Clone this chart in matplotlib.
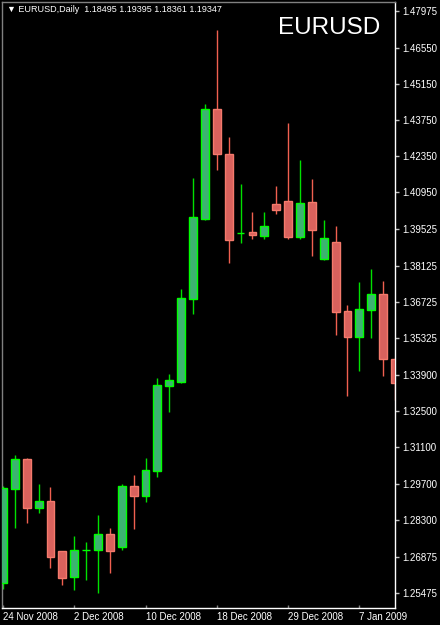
import matplotlib
matplotlib.use("Agg")
import matplotlib.pyplot as plt
import numpy as np

plt.rcParams['font.family'] = ['Liberation Sans', 'DejaVu Sans']

# EURUSD daily bars, 24 Nov 2008 .. 8 Jan 2009
opens = [1.2586, 1.2950, 1.3065, 1.2876, 1.2903, 1.2710, 1.2610, 1.2713, 1.2714, 1.2776,
         1.2726, 1.2961, 1.2923, 1.3019, 1.3347, 1.3363, 1.3684, 1.3993, 1.4418, 1.4244,
         1.3937, 1.3942, 1.3925, 1.4052, 1.4062, 1.3923, 1.4058, 1.3838, 1.3904, 1.3637,
         1.3537, 1.3641, 1.3703, 1.3450]
highs = [1.2961, 1.3081, 1.3069, 1.2969, 1.2957, 1.2712, 1.2768, 1.2745, 1.2849, 1.2799,
         1.2969, 1.3004, 1.3069, 1.3380, 1.3392, 1.3722, 1.4151, 1.4437, 1.4723, 1.4309,
         1.4128, 1.4020, 1.4020, 1.4120, 1.4363, 1.4221, 1.4147, 1.3989, 1.3966, 1.3660,
         1.3749, 1.3799, 1.3753, 1.3455]
lows = [1.2563, 1.2799, 1.2818, 1.2857, 1.2644, 1.2579, 1.2559, 1.2598, 1.2548, 1.2625,
        1.2714, 1.2795, 1.2899, 1.2996, 1.3247, 1.3360, 1.3626, 1.3989, 1.4182, 1.3823,
        1.3900, 1.3915, 1.3915, 1.4012, 1.3915, 1.3915, 1.3850, 1.3835, 1.3545, 1.3309,
        1.3407, 1.3533, 1.3388, 1.3293]
closes = [1.2953, 1.3065, 1.2876, 1.2903, 1.2687, 1.2606, 1.2714, 1.2714, 1.2776, 1.2710,
          1.2961, 1.2923, 1.3023, 1.3351, 1.3371, 1.3687, 1.4000, 1.4418, 1.4244, 1.3911,
          1.3939, 1.3931, 1.3966, 1.4027, 1.3923, 1.4054, 1.3950, 1.3919, 1.3633, 1.3537,
          1.3645, 1.3703, 1.3450, 1.3359]

date_pos = [0, 6, 12, 18, 24, 30]
date_labels = ["24 Nov 2008", "2 Dec 2008", "10 Dec 2008", "18 Dec 2008", "29 Dec 2008", "7 Jan 2009"]
price_ticks = [1.47975, 1.46550, 1.45150, 1.43750, 1.42350, 1.40950, 1.39525, 1.38125, 1.36725,
               1.35325, 1.33900, 1.32500, 1.31100, 1.29700, 1.28300, 1.26875, 1.25475]

W, H = 440, 625
fig = plt.figure(figsize=(W / 100, H / 100), dpi=100, facecolor="black")
ax = fig.add_axes([2 / W, 17 / H, 393 / W, 606 / H], facecolor="black")

x = np.arange(len(opens))
o = np.array(opens); c = np.array(closes)
up = c >= o

bull_fill, bull_edge = "#3cb371", "#00ff00"
bear_fill, bear_edge = "#d9625d", "#f47a6c"

# wicks
ax.vlines(x[up], np.array(lows)[up], np.array(highs)[up], color="#00e000", lw=1, zorder=2)
ax.vlines(x[~up], np.array(lows)[~up], np.array(highs)[~up], color="#f06050", lw=1, zorder=2)

# bodies
bottom = np.minimum(o, c)
height = np.maximum(np.abs(c - o), 0.00005)
ax.bar(x[up], height[up], bottom=bottom[up], width=0.66, color=bull_fill,
       edgecolor=bull_edge, linewidth=1, zorder=3)
ax.bar(x[~up], height[~up], bottom=bottom[~up], width=0.66, color=bear_fill,
       edgecolor=bear_edge, linewidth=1, zorder=3)

ax.set_xlim(-0.08, 33.0)
ax.set_ylim(1.24899, 1.48308)

# axes look (MT4 style)
for side in ["left", "top"]:
    ax.spines[side].set_color("#808080")
    ax.spines[side].set_linewidth(1)
for side in ["right", "bottom"]:
    ax.spines[side].set_color("white")
    ax.spines[side].set_linewidth(1)

ax.yaxis.tick_right()
ax.set_yticks(price_ticks)
ax.set_yticklabels([f"{p:.5f}" for p in price_ticks])
ax.tick_params(axis="y", colors="#c0c0c0", labelcolor="white", length=3, width=1,
               labelsize=7, pad=2)

ax.set_xticks(date_pos)
ax.set_xticklabels(date_labels, ha="left")
ax.tick_params(axis="x", colors="#808080", labelcolor="white", direction="in", length=2,
               width=1, labelsize=7, pad=3)

# header
fig.text(7 / W, 1 - 9 / H, "\u25bc EURUSD,Daily  1.18495 1.19395 1.18361 1.19347",
         color="white", fontsize=6.5, va="center", ha="left")
fig.text(380 / W, 1 - 28 / H, "EURUSD", color="white", fontsize=17.5, va="center", ha="right")

fig.savefig("out.png", dpi=100, facecolor="black")
